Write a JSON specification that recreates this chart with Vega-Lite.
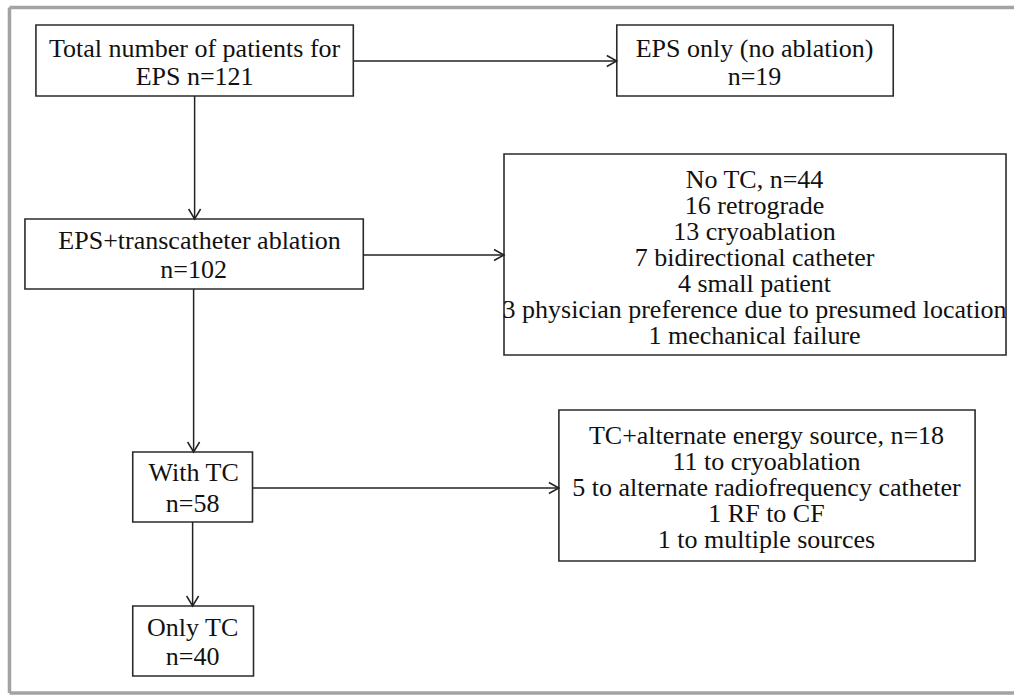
{
  "$schema": "https://vega.github.io/schema/vega-lite/v6.json",
  "width": 1016,
  "height": 696,
  "autosize": {"type": "fit", "contains": "padding"},
  "padding": 0,
  "background": "white",
  "config": {"view": {"stroke": null}},
  "datasets": {
    "frame": [
      {"x": 9.5, "y": 7.5, "x2": 1016, "y2": 7.5},
      {"x": 9.5, "y": 7.5, "x2": 9.5, "y2": 693},
      {"x": 9.5, "y": 693, "x2": 1016, "y2": 693}
    ],
    "boxes": [
      {"id": "total", "x": 36, "y": 25, "x2": 354, "y2": 96},
      {"id": "epsonly", "x": 618, "y": 25, "x2": 895, "y2": 96},
      {"id": "ablation", "x": 25, "y": 219, "x2": 364, "y2": 289},
      {"id": "notc", "x": 505, "y": 154, "x2": 1008, "y2": 355},
      {"id": "withtc", "x": 133, "y": 452, "x2": 253, "y2": 522},
      {"id": "alt", "x": 560, "y": 410, "x2": 977, "y2": 561},
      {"id": "onlytc", "x": 133, "y": 606, "x2": 254, "y2": 676}
    ],
    "links": [
      {"x": 354, "y": 61, "x2": 618, "y2": 61, "dir": "right"},
      {"x": 195, "y": 96, "x2": 195, "y2": 219, "dir": "down"},
      {"x": 364, "y": 255, "x2": 505, "y2": 255, "dir": "right"},
      {"x": 194, "y": 289, "x2": 194, "y2": 452, "dir": "down"},
      {"x": 253, "y": 488, "x2": 560, "y2": 488, "dir": "right"},
      {"x": 193, "y": 522, "x2": 193, "y2": 606, "dir": "down"}
    ],
    "labels": [
      {"text": "Total number of patients for", "x": 195, "y": 57},
      {"text": "EPS n=121", "x": 195, "y": 85},
      {"text": "EPS only (no ablation)", "x": 756, "y": 57},
      {"text": "n=19", "x": 756, "y": 85},
      {"text": "EPS+transcatheter ablation", "x": 200, "y": 249},
      {"text": "n=102", "x": 194, "y": 278},
      {"text": "No TC, n=44", "x": 756, "y": 188},
      {"text": "16 retrograde", "x": 756, "y": 214},
      {"text": "13 cryoablation", "x": 756, "y": 240},
      {"text": "7 bidirectional catheter", "x": 756, "y": 266},
      {"text": "4 small patient", "x": 756, "y": 292},
      {"text": "3 physician preference due to presumed location", "x": 756, "y": 318},
      {"text": "1 mechanical failure", "x": 756, "y": 344},
      {"text": "With TC", "x": 194, "y": 481},
      {"text": "n=58", "x": 193, "y": 512},
      {"text": "TC+alternate energy source, n=18", "x": 768, "y": 444},
      {"text": "11 to cryoablation", "x": 768, "y": 470},
      {"text": "5 to alternate radiofrequency catheter", "x": 768, "y": 496},
      {"text": "1 RF to CF", "x": 768, "y": 522},
      {"text": "1 to multiple sources", "x": 768, "y": 548},
      {"text": "Only TC", "x": 193, "y": 636},
      {"text": "n=40", "x": 193, "y": 665}
    ]
  },
  "layer": [
    {
      "data": {"name": "frame"},
      "mark": {"type": "rule", "color": "#a3a3a3", "strokeWidth": 3.5},
      "encoding": {
        "x": {"field": "x", "type": "quantitative", "scale": {"domain": [0, 1016], "nice": false, "zero": false}, "axis": null},
        "y": {"field": "y", "type": "quantitative", "scale": {"domain": [0, 696], "nice": false, "zero": false, "reverse": true}, "axis": null},
        "x2": {"field": "x2"},
        "y2": {"field": "y2"}
      }
    },
    {
      "data": {"name": "boxes"},
      "mark": {"type": "rect", "fill": "white", "stroke": "#2b2b2b", "strokeWidth": 1.6},
      "encoding": {
        "x": {"field": "x", "type": "quantitative", "scale": {"domain": [0, 1016], "nice": false, "zero": false}, "axis": null},
        "y": {"field": "y", "type": "quantitative", "scale": {"domain": [0, 696], "nice": false, "zero": false, "reverse": true}, "axis": null},
        "x2": {"field": "x2"},
        "y2": {"field": "y2"}
      }
    },
    {
      "data": {"name": "links"},
      "mark": {"type": "rule", "color": "#222222", "strokeWidth": 1.5},
      "encoding": {
        "x": {"field": "x", "type": "quantitative", "scale": {"domain": [0, 1016], "nice": false, "zero": false}, "axis": null},
        "y": {"field": "y", "type": "quantitative", "scale": {"domain": [0, 696], "nice": false, "zero": false, "reverse": true}, "axis": null},
        "x2": {"field": "x2"},
        "y2": {"field": "y2"}
      }
    },
    {
      "data": {"name": "links"},
      "transform": [{"filter": "datum.dir === 'right'"}],
      "mark": {"type": "point", "shape": "M-2,-1.1L0,0L-2,1.1", "size": 100, "filled": false, "stroke": "#222222", "strokeWidth": 1.5, "opacity": 1},
      "encoding": {
        "x": {"field": "x2", "type": "quantitative", "scale": {"domain": [0, 1016], "nice": false, "zero": false}, "axis": null},
        "y": {"field": "y2", "type": "quantitative", "scale": {"domain": [0, 696], "nice": false, "zero": false, "reverse": true}, "axis": null}
      }
    },
    {
      "data": {"name": "links"},
      "transform": [{"filter": "datum.dir === 'down'"}],
      "mark": {"type": "point", "shape": "M-1.2,-2L0,0L1.2,-2", "size": 100, "filled": false, "stroke": "#222222", "strokeWidth": 1.5, "opacity": 1},
      "encoding": {
        "x": {"field": "x2", "type": "quantitative", "scale": {"domain": [0, 1016], "nice": false, "zero": false}, "axis": null},
        "y": {"field": "y2", "type": "quantitative", "scale": {"domain": [0, 696], "nice": false, "zero": false, "reverse": true}, "axis": null}
      }
    },
    {
      "data": {"name": "labels"},
      "mark": {"type": "text", "font": "Liberation Serif, 'Times New Roman', DejaVu Serif, serif", "fontSize": 26, "color": "#111111", "align": "center", "baseline": "alphabetic"},
      "encoding": {
        "x": {"field": "x", "type": "quantitative", "scale": {"domain": [0, 1016], "nice": false, "zero": false}, "axis": null},
        "y": {"field": "y", "type": "quantitative", "scale": {"domain": [0, 696], "nice": false, "zero": false, "reverse": true}, "axis": null},
        "text": {"field": "text"}
      }
    }
  ]
}
